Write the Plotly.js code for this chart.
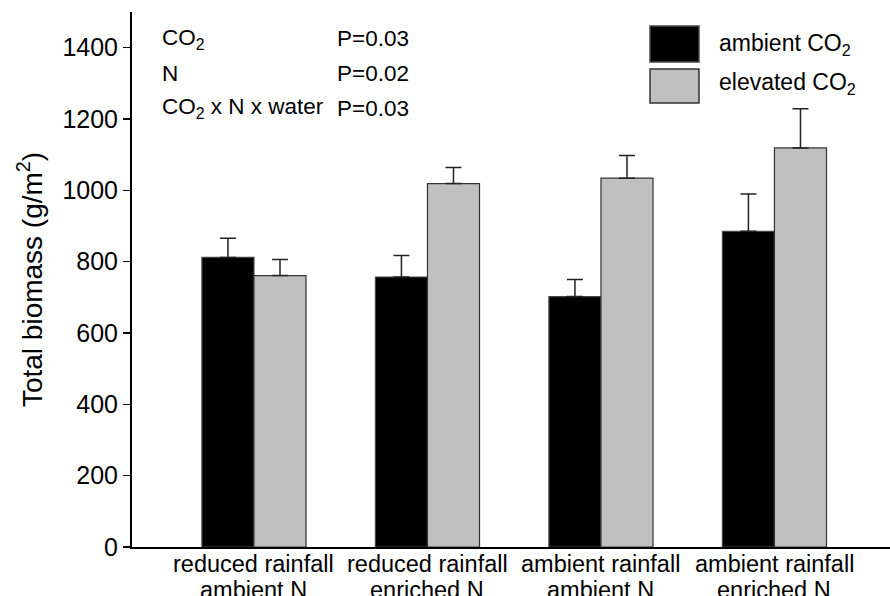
<!DOCTYPE html>
<html>
<head>
<meta charset="utf-8">
<script src="https://cdn.plot.ly/plotly-3.0.1.min.js"></script>
<style>html,body{margin:0;padding:0;background:#fff;}#chart{width:890px;height:596px;}</style>
</head>
<body>
<div id="chart"></div>
<script>
const categories = ["reduced rainfall<br>ambient N", "reduced rainfall<br>enriched N", "ambient rainfall<br>ambient N", "ambient rainfall<br>enriched N"];
const ambientCO2 = [812, 757, 702, 885];
const ambientErr = [54, 60, 48, 105];
const elevatedCO2 = [761, 1019, 1034, 1119];
const elevatedErr = [45, 45, 64, 110];
const seriesNames = ["ambient CO<sub>2</sub>", "elevated CO<sub>2</sub>"];
const statLabels = ["CO<sub>2</sub>", "N", "CO<sub>2</sub> x N x water"];
const statValues = ["P=0.03", "P=0.02", "P=0.03"];
const yTicks = [0, 200, 400, 600, 800, 1000, 1200, 1400];

const FONT = "Liberation Sans, Arial, sans-serif";
const errStyle = {color: "#222", thickness: 1.5, width: 8};

const traces = [
  {type: "bar", name: seriesNames[0], x: categories, y: ambientCO2,
   marker: {color: "#000000", line: {color: "#444", width: 1.2}},
   error_y: Object.assign({type: "data", symmetric: false, array: ambientErr, arrayminus: ambientErr.map(() => 0)}, errStyle)},
  {type: "bar", name: seriesNames[1], x: categories, y: elevatedCO2,
   marker: {color: "#c0c0c0", line: {color: "#333", width: 1.2}},
   error_y: Object.assign({type: "data", symmetric: false, array: elevatedErr, arrayminus: elevatedErr.map(() => 0)}, errStyle)}
];

const annotations = [];
// category labels, two lines each, placed through the category axis
categories.forEach((c) => {
  const lines = c.split("<br>");
  lines.forEach((ln, j) => {
    annotations.push({xref: "x", yref: "paper", x: c, y: j === 0 ? -0.031 : -0.08, xanchor: "center", yanchor: "middle",
      text: ln, showarrow: false, font: {family: FONT, size: 23.5, color: "#000"}});
  });
});
const statY = [0.95, 0.885, 0.82];
statLabels.forEach((t, i) => {
  annotations.push({xref: "paper", yref: "paper", x: 0.037, y: statY[i], xanchor: "left", yanchor: "middle",
    text: t, showarrow: false, font: {family: FONT, size: 22.5, color: "#000"}});
  annotations.push({xref: "paper", yref: "paper", x: 0.268, y: statY[i], xanchor: "left", yanchor: "middle",
    text: statValues[i], showarrow: false, font: {family: FONT, size: 22.5, color: "#000"}});
});
const legY = [0.94, 0.866];
seriesNames.forEach((t, i) => {
  annotations.push({xref: "paper", yref: "paper", x: 0.772, y: legY[i], xanchor: "left", yanchor: "middle",
    text: t, showarrow: false, font: {family: FONT, size: 23, color: "#000"}});
});

const shapes = [
  {type: "rect", xref: "paper", yref: "paper", x0: 0.6834, x1: 0.748, y0: 0.9065, y1: 0.9738,
   fillcolor: "#000", line: {color: "#444", width: 1.5}},
  {type: "rect", xref: "paper", yref: "paper", x0: 0.6834, x1: 0.748, y0: 0.8299, y1: 0.8935,
   fillcolor: "#c0c0c0", line: {color: "#333", width: 1.5}}
];

const layout = {
  width: 890, height: 596,
  margin: {l: 132, r: 0, t: 12, b: 49, pad: 0},
  paper_bgcolor: "#fff", plot_bgcolor: "#fff",
  showlegend: false,
  barmode: "group", bargap: 0.4, bargroupgap: 0,
  font: {family: FONT, size: 22, color: "#000"},
  xaxis: {type: "category", range: [-0.703, 3.666], showline: true, linecolor: "#000", linewidth: 2,
          ticks: "", showticklabels: false, showgrid: false, zeroline: false},
  yaxis: {range: [0, 1500], tickvals: yTicks, ticktext: yTicks.map(String), showline: true, linecolor: "#000", linewidth: 2,
          ticks: "outside", ticklen: 7, tickwidth: 1.5, tickcolor: "#000", showgrid: false, zeroline: false,
          tickfont: {family: FONT, size: 25, color: "#000"},
          title: {text: "Total biomass (g/m<sup>2</sup>)", font: {family: FONT, size: 28, color: "#000"}, standoff: 12}},
  annotations: annotations,
  shapes: shapes
};

Plotly.newPlot("chart", traces, layout, {displayModeBar: false, staticPlot: true});
</script>
</body>
</html>
